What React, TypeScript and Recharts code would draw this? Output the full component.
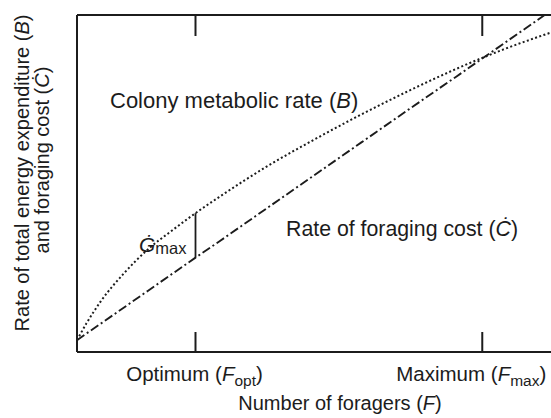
import { LineChart, Line, XAxis, YAxis, ReferenceLine } from 'recharts';

// number of foragers (F) and the two rates (0-100 scale)
const foragers = [0, 2, 5, 10, 15, 20, 25, 30, 40, 50, 60, 70, 80, 85, 90, 100];
const colonyRate = [3.5, 8.5, 15.0, 23.5, 30.5, 36.0, 41.2, 46.0, 55.0, 63.0, 70.5, 77.5, 84.0, 87.0, 89.8, 94.8];
const foragingCost = [3.5, 5.5, 8.4, 13.3, 18.2, 23.1, 28.0, 32.8, 42.6, 52.4, 62.2, 72.0, 81.7, 86.6, 91.5, 101.3];

const tickValues = [25, 85.5];
const tickNames = ['Optimum', 'Maximum'];
const tickSubs = ['opt', 'max'];
const OPT_INDEX = foragers.indexOf(25);

const INK = '#1c1c1c';
const FONT = '"Liberation Sans", Arial, Helvetica, sans-serif';

const data = foragers.map((f, i) => ({ f, b: colonyRate[i], c: foragingCost[i] }));

const BottomTick = (props: any) => {
  const { x, y, payload } = props;
  const i = tickValues.indexOf(payload.value);
  const dx = i === 0 ? -1 : -11;
  return (
    <g>
      <line x1={x} y1={y} x2={x} y2={y - 20} stroke={INK} strokeWidth={2} />
      <text x={x + dx} y={y + 29} textAnchor="middle" fontSize={20.5} fontFamily={FONT} fill={INK}>
        {tickNames[i]} (<tspan fontStyle="italic">F</tspan>
        <tspan dy={5} fontSize={15.5}>{tickSubs[i]}</tspan>
        <tspan dy={-5}>)</tspan>
      </text>
    </g>
  );
};

const TopTick = (props: any) => {
  const { x, y } = props;
  return <line x1={x} y1={y} x2={x} y2={y + 21} stroke={INK} strokeWidth={2} />;
};

const Annotations = () => (
  <g fontFamily={FONT} fontSize={20} fill={INK}>
    <text x={110} y={108} fontSize={22}>
      Colony metabolic rate (<tspan fontStyle="italic">B</tspan>)
    </text>
    <text x={286} y={236} fontSize={21.3}>
      Rate of foraging cost (<tspan fontStyle="italic">Ċ</tspan>)
    </text>
    <text x={139} y={252} fontSize={21}>
      <tspan fontStyle="italic">Ġ</tspan>
      <tspan dy={2} fontSize={16.5}>max</tspan>
    </text>
    <text x={340} y={410} textAnchor="middle">
      Number of foragers (<tspan fontStyle="italic">F</tspan>)
    </text>
    <text transform="translate(29,173) rotate(-90)" textAnchor="middle">
      Rate of total energy expenditure (<tspan fontStyle="italic">B</tspan>)
    </text>
    <text transform="translate(49,160) rotate(-90)" textAnchor="middle">
      and foraging cost (<tspan fontStyle="italic">Ċ</tspan>)
    </text>
  </g>
);

export default function App() {
  return (
    <div style={{ position: 'absolute', left: 0, top: 0, background: '#fff' }}>
      <LineChart width={551} height={418} data={data} margin={{ top: 14, right: 0, bottom: 65, left: 76 }}>
        <XAxis
          dataKey="f"
          type="number"
          domain={[0, 100]}
          ticks={tickValues}
          interval={0}
          height={1}
          tickSize={0}
          tickMargin={0}
          tickLine={false}
          axisLine={{ stroke: INK, strokeWidth: 2 }}
          tick={<BottomTick />}
        />
        <XAxis
          xAxisId="top"
          orientation="top"
          dataKey="f"
          type="number"
          domain={[0, 100]}
          ticks={tickValues}
          interval={0}
          height={1}
          tickSize={0}
          tickMargin={0}
          tickLine={false}
          axisLine={{ stroke: INK, strokeWidth: 2 }}
          tick={<TopTick />}
        />
        <YAxis
          type="number"
          domain={[0, 100]}
          allowDataOverflow
          width={1}
          tick={false}
          tickLine={false}
          axisLine={{ stroke: INK, strokeWidth: 2 }}
        />
        <Line
          dataKey="b"
          type="monotone"
          stroke={INK}
          strokeWidth={2}
          strokeDasharray="2 2.4"
          dot={false}
          isAnimationActive={false}
        />
        <Line
          dataKey="c"
          type="linear"
          stroke={INK}
          strokeWidth={1.9}
          strokeDasharray="9 3 2 3"
          dot={false}
          isAnimationActive={false}
        />
        <ReferenceLine
          segment={[
            { x: foragers[OPT_INDEX], y: foragingCost[OPT_INDEX] },
            { x: foragers[OPT_INDEX], y: colonyRate[OPT_INDEX] },
          ]}
          stroke={INK}
          strokeWidth={1.8}
        />
        <Annotations />
      </LineChart>
    </div>
  );
}
